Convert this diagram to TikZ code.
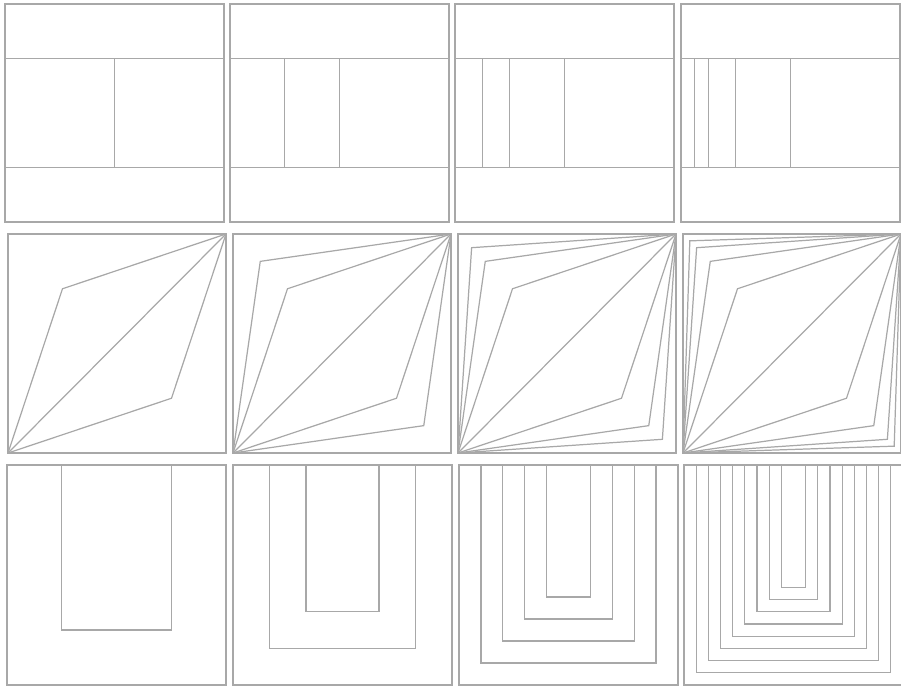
\documentclass[tikz,border=0pt]{standalone}
\usetikzlibrary{calc}
\begin{document}
\begin{tikzpicture}[x=0.02cm, y=-0.02cm, pnl/.style={draw=black!34, line width=0.7pt}]
\useasboundingbox (0,0) rectangle (901,686);
\clip (0,0) rectangle (901,686);
% row 1: band split in halves
\foreach \px/\k in {5/1, 230/2, 455/3, 681/4} {
  \begin{scope}[shift={(\px,4)}, xscale=219, yscale=218]
    \draw[pnl] (0,0) rectangle (1,1);
    \draw[pnl] (0,0.25) -- (1,0.25) (0,0.75) -- (1,0.75);
    \foreach \j in {1,...,\k}
      \draw[pnl] ({1/2^\j},0.25) -- ({1/2^\j},0.75);
  \end{scope}
}
% row 2: fans to the corners
\foreach \px/\k in {8/1, 233/2, 458/3, 683/4} {
  \begin{scope}[shift={(\px,234)}, xscale=218, yscale=219]
    \draw[pnl] (0,0) rectangle (1,1);
    \draw[pnl] (0,1) -- (1,0);
    \foreach \j in {1,...,\k} {
      \pgfmathsetmacro{\t}{1/2^(\j+1)}
      \draw[pnl] (0,1) -- (\t,\t) -- (1,0) -- ({1-\t},{1-\t}) -- cycle;
    }
  \end{scope}
}
% row 3: nested U shapes
\foreach \px/\n in {7/1, 233/2, 459/4, 684/8} {
  \begin{scope}[shift={(\px,465)}, xscale=219, yscale=220]
    \draw[pnl] (0,0) rectangle (1,1);
    \pgfmathsetmacro{\d}{1/(2*\n+2)}
    \foreach \j in {1,...,\n}
      \draw[pnl] ({\j*\d},0) -- ({\j*\d},{1-\j*\d}) -- ({1-\j*\d},{1-\j*\d}) -- ({1-\j*\d},0);
  \end{scope}
}
\end{tikzpicture}
\end{document}
